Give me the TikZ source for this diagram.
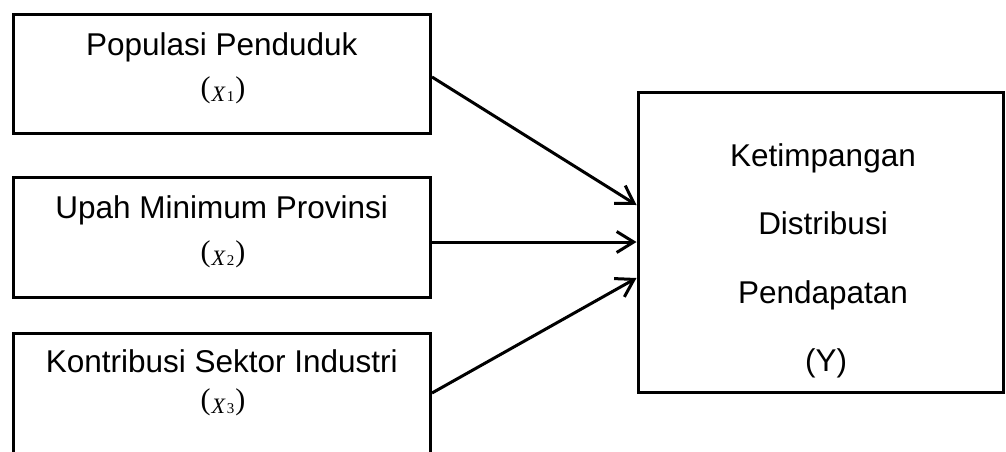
\documentclass[tikz,border=0pt]{standalone}
\usepackage{fontspec}
\setmainfont{Liberation Sans}
\newfontfamily\varfont{Liberation Serif}
\usetikzlibrary{arrows.meta}

% variable tag: parentheses with a lowered italic X and its index
\newcommand{\vartag}[1]{{\varfont\fontsize{30}{32}\selectfont(\kern1pt\raisebox{-4pt}{\fontsize{22}{24}\selectfont\textit{X}\kern1pt\raisebox{-0.5pt}{\fontsize{15}{16}\selectfont #1}}\kern1pt)}}

\tikzset{
  box/.style={draw=black, line width=3pt, rectangle, inner sep=0pt},
  lbl/.style={anchor=base, inner sep=0pt, font=\fontsize{31.5}{36}\selectfont},
  var/.style={anchor=base, inner sep=0pt},
  link/.style={line width=3pt, -{Straight Barb[length=17pt,width=21pt]}}
}

\begin{document}
\begin{tikzpicture}[x=1pt, y=-1pt]
  \useasboundingbox (0,0) rectangle (1006,451);
  \clip (0,0) rectangle (1006,451);

  % independent variables
  \node[box, minimum width=417.5pt, minimum height=119pt] (b1) at (221.75,73.5) {};
  \node[box, minimum width=417.5pt, minimum height=120pt] (b2) at (221.75,237) {};
  \node[box, minimum width=417.5pt, minimum height=124pt] (b3) at (221.75,395) {};

  \node[lbl] (t1) at (221.75,55) {Populasi Penduduk};
  \node[var] (v1) at (223,97) {\vartag{1}};
  \node[lbl] (t2) at (221.75,218) {Upah Minimum Provinsi};
  \node[var] (v2) at (223,261) {\vartag{2}};
  \node[lbl] (t3) at (221.75,372) {Kontribusi Sektor Industri};
  \node[var] (v3) at (223,409) {\vartag{3}};

  % dependent variable
  \node[box, minimum width=365pt, minimum height=300pt] (y) at (820.5,242) {};
  \node[lbl] (y1) at (823,166) {Ketimpangan};
  \node[lbl] (y2) at (823,234.5) {Distribusi};
  \node[lbl] (y3) at (823,303) {Pendapatan};
  \node[lbl] (y4) at (826,371.5) {(Y)};

  % influences
  \draw[link] ([yshift=-3.5pt]b1.east) -- ([yshift=37pt]y.west);
  \draw[link] ([yshift=-5pt]b2.east) -- (y.west);
  \draw[link] ([yshift=2pt]b3.east) -- ([yshift=-36pt]y.west);
\end{tikzpicture}
\end{document}
